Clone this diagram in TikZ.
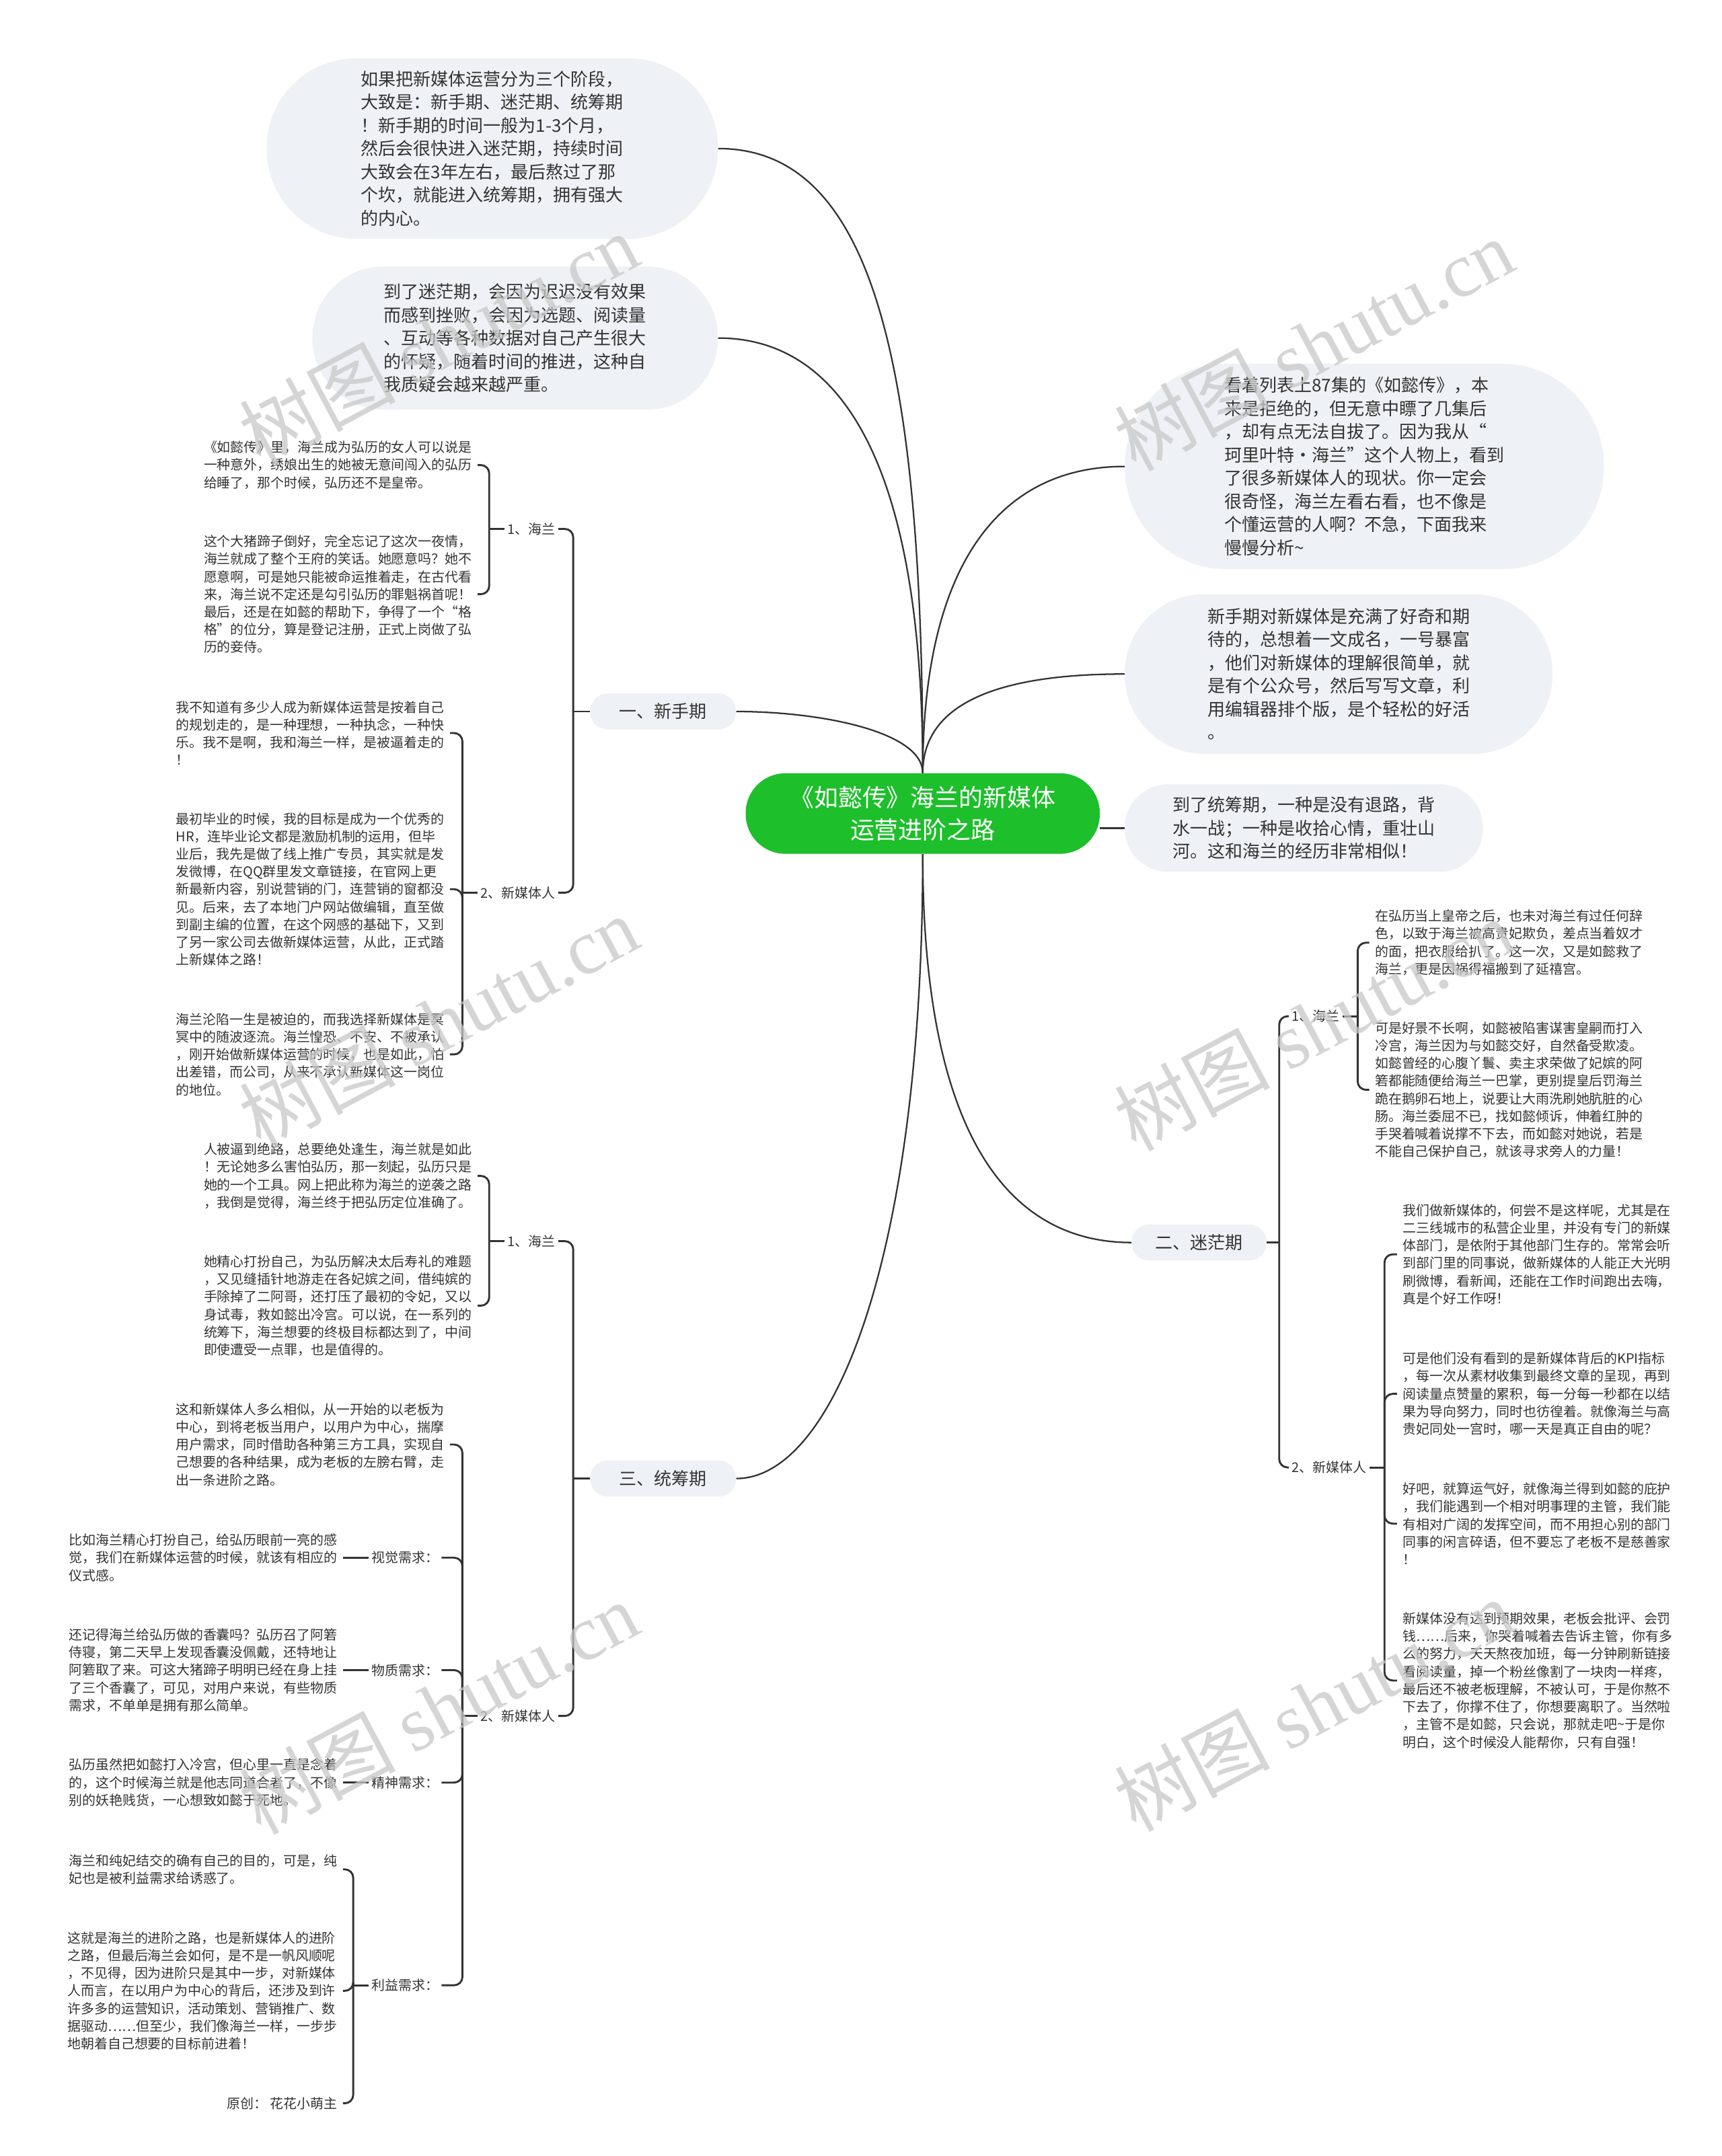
\documentclass[tikz,border=0pt]{standalone}
\usepackage{fontspec}
\usepackage{xcolor}
\usepackage{tikz}
\usetikzlibrary{calc}
\setmainfont{Noto Sans CJK SC}
\newfontfamily\wmlatin{Liberation Serif}
\definecolor{bubblegray}{HTML}{EEF1F5}
\definecolor{titlegreen}{HTML}{1DBF2B}
\definecolor{inkgray}{HTML}{333333}
\definecolor{markgray}{HTML}{C8C8C8}
\newcommand{\leafsize}{\fontsize{9.65pt}{12.7pt}\selectfont}
\newcommand{\bubblesize}{\fontsize{12.6pt}{16.7pt}\selectfont}
\newcommand{\titlesize}{\fontsize{17.4pt}{23pt}\selectfont}
\newcommand{\marksize}{\fontsize{56pt}{56pt}\selectfont}

\begin{document}
\begin{tikzpicture}[x=1pt,y=-1pt,
                leaf/.style={font=\leafsize,text=inkgray,align=left,inner xsep=4pt,inner ysep=0pt},
                sublabel/.style={font=\leafsize,text=inkgray,inner sep=2pt},
                branch/.style={font=\bubblesize,text=inkgray,fill=bubblegray,inner sep=0pt,minimum height=26pt,rounded corners=12.5pt},
                bubble/.style={font=\bubblesize,text=inkgray,fill=bubblegray,align=left,inner sep=0pt},
                link/.style={draw=inkgray,line width=1.1pt},
                brk/.style={draw=inkgray,line width=1.4pt,rounded corners=6pt},
                wmark/.style={font=\marksize,text=markgray,rotate=28,inner sep=0pt,opacity=0.75}]
                \fill[white] (0,0) rectangle (1240,1553);
                \useasboundingbox (0,0) rectangle (1240,1553);

                \node[fill=titlegreen,text=white,font=\titlesize,align=center,inner sep=0pt,minimum width=255pt,minimum height=58pt,rounded corners=28.5pt] (root) at (664.5,586) {《如懿传》海兰的新媒体\\运营进阶之路};

                \node[bubble,minimum width=325pt,minimum height=130pt,rounded corners=64.5pt] (intro) at (354.5,107) {如果把新媒体运营分为三个阶段，\\大致是：新手期、迷茫期、统筹期\\！新手期的时间一般为1-3个月，\\然后会很快进入迷茫期，持续时间\\大致会在3年左右，最后熬过了那\\个坎，就能进入统筹期，拥有强大\\的内心。};
                \node[bubble,minimum width=292pt,minimum height=103pt,rounded corners=51pt] (lost) at (371,243.5) {到了迷茫期，会因为迟迟没有效果\\而感到挫败，会因为选题、阅读量\\、互动等各种数据对自己产生很大\\的怀疑，随着时间的推进，这种自\\我质疑会越来越严重。};
                \node[bubble,minimum width=345pt,minimum height=148pt,rounded corners=73.5pt] (watch) at (982.5,336) {看着列表上87集的《如懿传》，本\\来是拒绝的，但无意中瞟了几集后\\，却有点无法自拔了。因为我从“\\珂里叶特·海兰”这个人物上，看到\\了很多新媒体人的现状。你一定会\\很奇怪，海兰左看右看，也不像是\\个懂运营的人啊？不急，下面我来\\慢慢分析\textasciitilde};
                \node[bubble,minimum width=308pt,minimum height=115pt,rounded corners=57pt] (novice) at (964,485.5) {新手期对新媒体是充满了好奇和期\\待的，总想着一文成名，一号暴富\\，他们对新媒体的理解很简单，就\\是有个公众号，然后写写文章，利\\用编辑器排个版，是个轻松的好活\\。};
                \node[bubble,minimum width=258pt,minimum height=63pt,rounded corners=31pt] (plan) at (939,596.5) {到了统筹期，一种是没有退路，背\\水一战；一种是收拾心情，重壮山\\河。这和海兰的经历非常相似！};

                \node[branch,minimum width=105pt] (n1) at (477.5,512.5) {一、新手期};
                \node[branch,minimum width=97pt] (n2) at (863.5,895) {二、迷茫期};
                \node[branch,minimum width=105pt] (n3) at (477.5,1065) {三、统筹期};

                \draw[link] (root.north) .. controls ($(root.north)+(0,-300)$) and ($(intro.east)+(110,0)$) .. (intro.east);
                \draw[link] (root.north) .. controls ($(root.north)+(0,-220)$) and ($(lost.east)+(90,0)$) .. (lost.east);
                \draw[link] (root.north) .. controls ($(root.north)+(0,-150)$) and ($(watch.west)+(-90,0)$) .. (watch.west);
                \draw[link] (root.north) .. controls ($(root.north)+(0,-55)$) and ($(novice.west)+(-80,0)$) .. (novice.west);
                \draw[link] (root.north) .. controls ($(root.north)+(0,-30)$) and ($(n1.east)+(60,0)$) .. (n1.east);
                \draw[link] (plan.west -| root.east) -- (plan.west);
                \draw[link] (root.south) .. controls ($(root.south)+(0,200)$) and ($(n2.west)+(-90,0)$) .. (n2.west);
                \draw[link] (root.south) .. controls ($(root.south)+(0,290)$) and ($(n3.east)+(70,0)$) .. (n3.east);

                \node[sublabel,anchor=east] (n1a) at (402,381) {1、海兰};
                \node[sublabel,anchor=east] (n1b) at (402,643) {2、新媒体人};
                \node[leaf,anchor=east] (n1a1) at (344,335) {《如懿传》里，海兰成为弘历的女人可以说是\\一种意外，绣娘出生的她被无意间闯入的弘历\\给睡了，那个时候，弘历还不是皇帝。};
                \node[leaf,anchor=east] (n1a2) at (344,428) {这个大猪蹄子倒好，完全忘记了这次一夜情，\\海兰就成了整个王府的笑话。她愿意吗？她不\\愿意啊，可是她只能被命运推着走，在古代看\\来，海兰说不定还是勾引弘历的罪魁祸首呢！\\最后，还是在如懿的帮助下，争得了一个“格\\格”的位分，算是登记注册，正式上岗做了弘\\历的妾侍。};
                \node[leaf,anchor=east] (n1b1) at (324,528) {我不知道有多少人成为新媒体运营是按着自己\\的规划走的，是一种理想，一种执念，一种快\\乐。我不是啊，我和海兰一样，是被逼着走的\\！};
                \node[leaf,anchor=east] (n1b2) at (324,640.5) {最初毕业的时候，我的目标是成为一个优秀的\\HR，连毕业论文都是激励机制的运用，但毕\\业后，我先是做了线上推广专员，其实就是发\\发微博，在QQ群里发文章链接，在官网上更\\新最新内容，别说营销的门，连营销的窗都没\\见。后来，去了本地门户网站做编辑，直至做\\到副主编的位置，在这个网感的基础下，又到\\了另一家公司去做新媒体运营，从此，正式踏\\上新媒体之路！};
                \node[leaf,anchor=east] (n1b3) at (324,759.5) {海兰沦陷一生是被迫的，而我选择新媒体是冥\\冥中的随波逐流。海兰惶恐、不安、不被承认\\，刚开始做新媒体运营的时候，也是如此，怕\\出差错，而公司，从来不承认新媒体这一岗位\\的地位。};

                \node[sublabel,anchor=east] (n3a) at (402,894) {1、海兰};
                \node[sublabel,anchor=east] (n3b) at (402,1236) {2、新媒体人};
                \node[leaf,anchor=east] (n3a1) at (344,847) {人被逼到绝路，总要绝处逢生，海兰就是如此\\！无论她多么害怕弘历，那一刻起，弘历只是\\她的一个工具。网上把此称为海兰的逆袭之路\\，我倒是觉得，海兰终于把弘历定位准确了。};
                \node[leaf,anchor=east] (n3a2) at (344,940.5) {她精心打扮自己，为弘历解决太后寿礼的难题\\，又见缝插针地游走在各妃嫔之间，借纯嫔的\\手除掉了二阿哥，还打压了最初的令妃，又以\\身试毒，救如懿出冷宫。可以说，在一系列的\\统筹下，海兰想要的终极目标都达到了，中间\\即使遭受一点罪，也是值得的。};
                \node[leaf,anchor=east] (n3b1) at (324,1040.5) {这和新媒体人多么相似，从一开始的以老板为\\中心，到将老板当用户，以用户为中心，揣摩\\用户需求，同时借助各种第三方工具，实现自\\己想要的各种结果，成为老板的左膀右臂，走\\出一条进阶之路。};
                \node[sublabel,anchor=east] (n3b2) at (318,1122) {视觉需求：};
                \node[sublabel,anchor=east] (n3b3) at (318,1203) {物质需求：};
                \node[sublabel,anchor=east] (n3b4) at (318,1284) {精神需求：};
                \node[sublabel,anchor=east] (n3b5) at (318,1430) {利益需求：};
                \node[leaf,anchor=east] (n3b2a) at (247,1122) {比如海兰精心打扮自己，给弘历眼前一亮的感\\觉，我们在新媒体运营的时候，就该有相应的\\仪式感。};
                \node[leaf,anchor=east] (n3b3a) at (247,1203) {还记得海兰给弘历做的香囊吗？弘历召了阿箬\\侍寝，第二天早上发现香囊没佩戴，还特地让\\阿箬取了来。可这大猪蹄子明明已经在身上挂\\了三个香囊了，可见，对用户来说，有些物质\\需求，不单单是拥有那么简单。};
                \node[leaf,anchor=east] (n3b4a) at (247,1284) {弘历虽然把如懿打入冷宫，但心里一直是念着\\的，这个时候海兰就是他志同道合者了，不像\\别的妖艳贱货，一心想致如懿于死地。};
                \node[leaf,anchor=east] (n3b5a) at (247,1346.5) {海兰和纯妃结交的确有自己的目的，可是，纯\\妃也是被利益需求给诱惑了。};
                \node[leaf,anchor=east] (n3b5b) at (247,1434) {这就是海兰的进阶之路，也是新媒体人的进阶\\之路，但最后海兰会如何，是不是一帆风顺呢\\，不见得，因为进阶只是其中一步，对新媒体\\人而言，在以用户为中心的背后，还涉及到许\\许多多的运营知识，活动策划、营销推广、数\\据驱动……但至少，我们像海兰一样，一步步\\地朝着自己想要的目标前进着！};
                \node[leaf,anchor=east] (n3b5c) at (247,1515) {原创： 花花小萌主};

                \node[sublabel,anchor=west] (n2a) at (928,732) {1、海兰};
                \node[sublabel,anchor=west] (n2b) at (928,1057) {2、新媒体人};
                \node[leaf,anchor=west] (n2a1) at (986,679) {在弘历当上皇帝之后，也未对海兰有过任何辞\\色，以致于海兰被高贵妃欺负，差点当着奴才\\的面，把衣服给扒了。这一次，又是如懿救了\\海兰，更是因祸得福搬到了延禧宫。};
                \node[leaf,anchor=west] (n2a2) at (986,785) {可是好景不长啊，如懿被陷害谋害皇嗣而打入\\冷宫，海兰因为与如懿交好，自然备受欺凌。\\如懿曾经的心腹丫鬟、卖主求荣做了妃嫔的阿\\箬都能随便给海兰一巴掌，更别提皇后罚海兰\\跪在鹅卵石地上，说要让大雨洗刷她肮脏的心\\肠。海兰委屈不已，找如懿倾诉，伸着红肿的\\手哭着喊着说撑不下去，而如懿对她说，若是\\不能自己保护自己，就该寻求旁人的力量！};
                \node[leaf,anchor=west] (n2b1) at (1006,903.5) {我们做新媒体的，何尝不是这样呢，尤其是在\\二三线城市的私营企业里，并没有专门的新媒\\体部门，是依附于其他部门生存的。常常会听\\到部门里的同事说，做新媒体的人能正大光明\\刷微博，看新闻，还能在工作时间跑出去嗨，\\真是个好工作呀！};
                \node[leaf,anchor=west] (n2b2) at (1006,1004) {可是他们没有看到的是新媒体背后的KPI指标\\，每一次从素材收集到最终文章的呈现，再到\\阅读量点赞量的累积，每一分每一秒都在以结\\果为导向努力，同时也彷徨着。就像海兰与高\\贵妃同处一宫时，哪一天是真正自由的呢？};
                \node[leaf,anchor=west] (n2b3) at (1006,1097.5) {好吧，就算运气好，就像海兰得到如懿的庇护\\，我们能遇到一个相对明事理的主管，我们能\\有相对广阔的发挥空间，而不用担心别的部门\\同事的闲言碎语，但不要忘了老板不是慈善家\\！};
                \node[leaf,anchor=west] (n2b4) at (1006,1210.5) {新媒体没有达到预期效果，老板会批评、会罚\\钱……后来，你哭着喊着去告诉主管，你有多\\么的努力，天天熬夜加班，每一分钟刷新链接\\看阅读量，掉一个粉丝像割了一块肉一样疼，\\最后还不被老板理解，不被认可，于是你熬不\\下去了，你撑不住了，你想要离职了。当然啦\\，主管不是如懿，只会说，那就走吧\textasciitilde 于是你\\明白，这个时候没人能帮你，只有自强！};

                \coordinate (j1) at ($(n1.west)+(-12,0)$);
                \coordinate (j1a) at ($(n1a.west)+(-11,0)$);
                \coordinate (j1b) at ($(n1b.west)+(-11,0)$);
                \coordinate (j3) at ($(n3.west)+(-12,0)$);
                \coordinate (j3a) at ($(n3a.west)+(-11,0)$);
                \coordinate (j3b) at ($(n3b.west)+(-11,0)$);
                \coordinate (j3b5) at ($(n3b5.west)+(-11,0)$);
                \coordinate (j2) at ($(n2.east)+(9,0)$);
                \coordinate (j2a) at ($(n2a.east)+(11,0)$);
                \coordinate (j2b) at ($(n2b.east)+(11,0)$);

                \draw[brk] (j1) -- (n1.west);
                \draw[brk] (j1) |- (n1a.east);
                \draw[brk] (j1) |- (n1b.east);
                \draw[brk] (j1a) -- (n1a.west);
                \draw[brk] (j1a) |- (n1a1.east);
                \draw[brk] (j1a) |- (n1a2.east);
                \draw[brk] (j1b) -- (n1b.west);
                \draw[brk] (j1b) |- (n1b1.east);
                \draw[brk] (j1b) |- (n1b2.east);
                \draw[brk] (j1b) |- (n1b3.east);

                \draw[brk] (j3) -- (n3.west);
                \draw[brk] (j3) |- (n3a.east);
                \draw[brk] (j3) |- (n3b.east);
                \draw[brk] (j3a) -- (n3a.west);
                \draw[brk] (j3a) |- (n3a1.east);
                \draw[brk] (j3a) |- (n3a2.east);
                \draw[brk] (j3b) -- (n3b.west);
                \draw[brk] (j3b) |- (n3b1.east);
                \draw[brk] (j3b) |- (n3b2.east);
                \draw[brk] (j3b) |- (n3b3.east);
                \draw[brk] (j3b) |- (n3b4.east);
                \draw[brk] (j3b) |- (n3b5.east);
                \draw[brk] (n3b2a.east) -- (n3b2.west);
                \draw[brk] (n3b3a.east) -- (n3b3.west);
                \draw[brk] (n3b4a.east) -- (n3b4.west);
                \draw[brk] (j3b5) -- (n3b5.west);
                \draw[brk] (j3b5) |- (n3b5a.east);
                \draw[brk] (j3b5) |- (n3b5b.east);
                \draw[brk] (j3b5) |- (n3b5c.east);

                \draw[brk] (j2) -- (n2.east);
                \draw[brk] (j2) |- (n2a.west);
                \draw[brk] (j2) |- (n2b.west);
                \draw[brk] (j2a) -- (n2a.east);
                \draw[brk] (j2a) |- (n2a1.west);
                \draw[brk] (j2a) |- (n2a2.west);
                \draw[brk] (j2b) -- (n2b.east);
                \draw[brk] (j2b) |- (n2b1.west);
                \draw[brk] (j2b) |- (n2b2.west);
                \draw[brk] (j2b) |- (n2b3.west);
                \draw[brk] (j2b) |- (n2b4.west);

                \node[wmark] (wm1) at (316,244) {树图 {\wmlatin shutu.cn}};
                \node[wmark] (wm2) at (316,736) {树图 {\wmlatin shutu.cn}};
                \node[wmark] (wm3) at (316,1230) {树图 {\wmlatin shutu.cn}};
                \node[wmark] (wm4) at (946,248) {树图 {\wmlatin shutu.cn}};
                \node[wmark] (wm5) at (946,738) {树图 {\wmlatin shutu.cn}};
                \node[wmark] (wm6) at (946,1228) {树图 {\wmlatin shutu.cn}};
            \end{tikzpicture}
\end{document}
